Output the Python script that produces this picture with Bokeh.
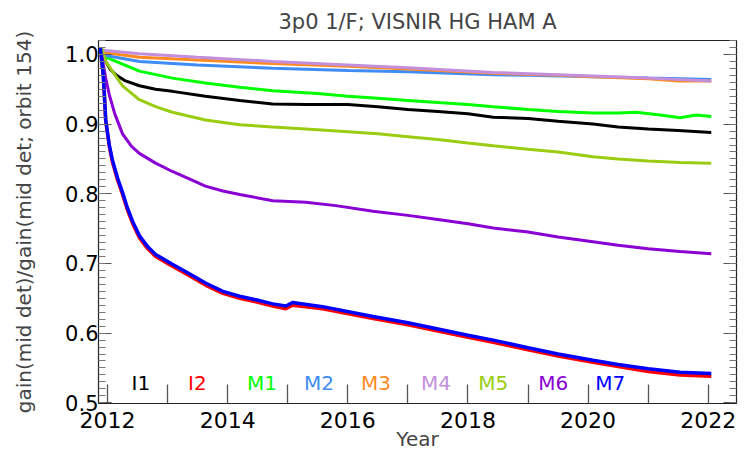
from bokeh.plotting import figure
from bokeh.models import FixedTicker, LinearAxis, PrintfTickFormatter, Range1d, CustomLabelingPolicy
from bokeh.core.properties import value
from bokeh.embed import file_html
from bokeh.resources import INLINE

# ---- data ----
i1_x = [2011.92, 2011.97, 2012.05, 2012.15, 2012.3, 2012.53, 2012.8, 2013.08, 2013.63, 2014.2, 2014.75,
        2015.3, 2016.0, 2016.5, 2017.0, 2017.5, 2018.0, 2018.42, 2019.0, 2019.5, 2020.08, 2020.5, 2021.0,
        2021.5, 2022.05]
i1_y = [1.005, 0.99, 0.978, 0.97, 0.962, 0.955, 0.950, 0.947, 0.940, 0.934, 0.929,
        0.928, 0.928, 0.925, 0.921, 0.918, 0.915, 0.910, 0.908, 0.904, 0.900, 0.896, 0.893,
        0.891, 0.888]

m7_x = [2011.88, 2011.93, 2011.97, 2012.03, 2012.08, 2012.17, 2012.25, 2012.33, 2012.42, 2012.53, 2012.67,
        2012.8, 2013.08, 2013.37, 2013.63, 2013.92, 2014.2, 2014.47, 2014.75, 2014.97, 2015.08, 2015.58,
        2016.42, 2017.0, 2017.5, 2018.0, 2018.42, 2019.0, 2019.5, 2020.08, 2020.5, 2021.0, 2021.53, 2022.05]
m7_y = [1.01, 0.97, 0.906, 0.87, 0.849, 0.822, 0.802, 0.780, 0.760, 0.740, 0.724,
        0.713, 0.699, 0.685, 0.672, 0.660, 0.653, 0.648, 0.642, 0.639, 0.644, 0.638,
        0.624, 0.615, 0.606, 0.597, 0.590, 0.579, 0.570, 0.561, 0.555, 0.549, 0.544, 0.542]

i2_x = [2011.88, 2011.93, 2011.97, 2012.03, 2012.08, 2012.17, 2012.25, 2012.33, 2012.42, 2012.53, 2012.67,
        2012.8, 2013.08, 2013.37, 2013.63, 2013.92, 2014.2, 2014.47, 2014.75, 2014.97, 2015.08, 2015.58,
        2016.42, 2017.0, 2017.5, 2018.0, 2018.42, 2019.0, 2019.5, 2020.08, 2020.5, 2021.0, 2021.53, 2022.05]
i2_y = [1.01, 0.97, 0.905, 0.868, 0.846, 0.819, 0.799, 0.777, 0.757, 0.737, 0.721,
        0.710, 0.696, 0.682, 0.669, 0.657, 0.650, 0.645, 0.639, 0.635, 0.640, 0.635,
        0.621, 0.612, 0.603, 0.594, 0.587, 0.576, 0.567, 0.558, 0.552, 0.545, 0.540, 0.538]

m1_x = [2011.92, 2012.0, 2012.25, 2012.53, 2013.08, 2013.63, 2014.2, 2014.75, 2015.5, 2016.0, 2016.5, 2017.0,
        2017.5, 2018.0, 2018.42, 2019.0, 2019.5, 2020.08, 2020.5, 2020.8, 2021.2, 2021.53, 2021.8, 2022.05]
m1_y = [1.0, 0.995, 0.986, 0.976, 0.966, 0.959, 0.953, 0.948, 0.944, 0.940, 0.937, 0.934,
        0.931, 0.928, 0.925, 0.921, 0.918, 0.916, 0.916, 0.917, 0.913, 0.909, 0.913, 0.911]

m2_x = [2011.92, 2012.0, 2012.53, 2013.5, 2014.75, 2016.0, 2017.0, 2018.42, 2019.0, 2020.08, 2021.0, 2022.05]
m2_y = [1.0, 0.998, 0.990, 0.985, 0.980, 0.977, 0.975, 0.971, 0.970, 0.968, 0.966, 0.964]

m3_x = [2011.92, 2012.53, 2013.5, 2014.75, 2016.0, 2017.0, 2018.42, 2019.5, 2020.08, 2021.0, 2021.5, 2022.05]
m3_y = [1.003, 0.996, 0.992, 0.987, 0.983, 0.979, 0.973, 0.970, 0.968, 0.965, 0.962, 0.962]

m4_x = [2011.92, 2012.53, 2013.5, 2014.75, 2016.0, 2017.0, 2018.42, 2019.5, 2020.08, 2021.0, 2022.05]
m4_y = [1.006, 1.001, 0.996, 0.990, 0.985, 0.981, 0.974, 0.971, 0.969, 0.966, 0.962]

m5_x = [2011.9, 2011.97, 2012.08, 2012.25, 2012.53, 2012.8, 2013.08, 2013.63, 2014.2, 2014.75, 2015.5, 2016.0,
        2016.5, 2017.0, 2017.5, 2018.0, 2018.42, 2019.0, 2019.5, 2020.08, 2020.5, 2021.0, 2021.53, 2022.05]
m5_y = [1.01, 0.99, 0.976, 0.955, 0.935, 0.925, 0.917, 0.906, 0.899, 0.896, 0.892, 0.889,
        0.886, 0.882, 0.878, 0.873, 0.869, 0.864, 0.860, 0.853, 0.850, 0.847, 0.845, 0.844]

m6_x = [2011.9, 2011.97, 2012.03, 2012.12, 2012.25, 2012.4, 2012.53, 2012.8, 2013.08, 2013.37, 2013.63, 2013.92,
        2014.2, 2014.75, 2015.3, 2015.8, 2016.42, 2017.0, 2017.5, 2018.0, 2018.42, 2019.0, 2019.5, 2020.08,
        2020.5, 2021.0, 2021.53, 2022.05]
m6_y = [1.0, 0.966, 0.942, 0.915, 0.886, 0.868, 0.858, 0.844, 0.832, 0.821, 0.811, 0.804,
        0.799, 0.790, 0.788, 0.783, 0.775, 0.769, 0.763, 0.757, 0.751, 0.745, 0.738, 0.731,
        0.726, 0.721, 0.717, 0.714]

band_names = ["I1", "I2", "M1", "M2", "M3", "M4", "M5", "M6", "M7"]
band_colors = ["#000000", "#ff0000", "#00ff00", "#3f8cf5", "#ff8a1f", "#c38fdc", "#9acd12", "#8a00d4", "#0000ff"]
legend_x = [2012.4, 2013.34, 2014.32, 2015.27, 2016.22, 2017.22, 2018.17, 2019.17, 2020.12]
legend_y = 0.528

x_ticks = [2012, 2014, 2016, 2018, 2020, 2022]
x_minor = [2013, 2015, 2017, 2019, 2021]
y_ticks = [0.5, 0.6, 0.7, 0.8, 0.9, 1.0]
y_minor = [round(0.5 + 0.01 * k, 2) for k in range(0, 53)]

FONT = "DejaVu Sans"

p = figure(width=740, height=453, output_backend="svg", toolbar_location=None,
           x_range=Range1d(2011.85, 2022.47), y_range=Range1d(0.499, 1.02),
           min_border_left=98, min_border_right=0, min_border_top=38, min_border_bottom=30,
           title="3p0 1/F; VISNIR HG HAM A")
p.title.text_font = FONT
p.title.text_font_size = "21px"
p.title.text_font_style = "normal"
p.title.align = "center"
p.title.standoff = 14
p.grid.visible = False
p.outline_line_color = "#222222"
p.outline_line_width = 1.2
p.background_fill_color = "white"
p.border_fill_color = "white"

series = [(i1_x, i1_y), (i2_x, i2_y), (m1_x, m1_y), (m2_x, m2_y), (m3_x, m3_y),
          (m4_x, m4_y), (m5_x, m5_y), (m6_x, m6_y), (m7_x, m7_y)]
for (xs, ys), c in zip(series, band_colors):
    w = 3.5 if c in ("#ff0000", "#0000ff") else 3
    p.line(xs, ys, line_color=c, line_width=w)

p.text(x=legend_x, y=[legend_y] * len(band_names), text=band_names, text_color=band_colors,
       text_font=value(FONT), text_font_size=value("20px"), text_baseline="middle", text_align="left")

# x axis
xa = p.xaxis[0]
xa.ticker = FixedTicker(ticks=x_ticks, minor_ticks=x_minor)
xa.major_tick_in = 19
xa.major_tick_out = 0
xa.minor_tick_in = 19
xa.minor_tick_out = 0
xa.major_tick_line_color = "#555555"
xa.minor_tick_line_color = "#555555"
xa.major_tick_line_width = 1.3
xa.minor_tick_line_width = 1.3
xa.axis_line_color = "#222222"
xa.major_label_text_font = FONT
xa.major_label_text_font_size = "22px"
xa.major_label_text_color = "black"
xa.major_label_standoff = 8
xa.axis_label = "Year"
xa.axis_label_text_font = FONT
xa.axis_label_text_font_size = "20px"
xa.axis_label_text_font_style = "normal"
xa.axis_label_standoff = -4

# y axis
ya = p.yaxis[0]
ya.ticker = FixedTicker(ticks=y_ticks, minor_ticks=y_minor)
ya.formatter = PrintfTickFormatter(format="%.1f")
ya.major_tick_in = 13
ya.major_tick_out = 0
ya.minor_tick_in = 7
ya.minor_tick_out = 0
ya.major_tick_line_color = "#555555"
ya.minor_tick_line_color = "#777777"
ya.axis_line_color = "#222222"
ya.major_label_text_font = FONT
ya.major_label_text_font_size = "21px"
ya.major_label_text_color = "black"
ya.major_label_standoff = 0
ya.axis_label = "gain(mid det)/gain(mid det; orbit 154)"
ya.axis_label_text_font = FONT
ya.axis_label_text_font_size = "20px"
ya.axis_label_text_font_style = "normal"
ya.axis_label_standoff = 26

ra = LinearAxis(ticker=FixedTicker(ticks=y_ticks, minor_ticks=y_minor))
ra.major_label_policy = CustomLabelingPolicy(code="""
for (const i of indices)
  indices.unset(i)
""")
ra.major_label_text_font_size = "1px"
ra.major_label_standoff = 0
ra.axis_label_standoff = 0
ra.major_tick_in = 13
ra.major_tick_out = 0
ra.minor_tick_in = 7
ra.minor_tick_out = 0
ra.major_tick_line_color = "#555555"
ra.minor_tick_line_color = "#777777"
ra.axis_line_color = "#222222"
p.add_layout(ra, "right")

open("out.html", "w").write(file_html(p, INLINE))
